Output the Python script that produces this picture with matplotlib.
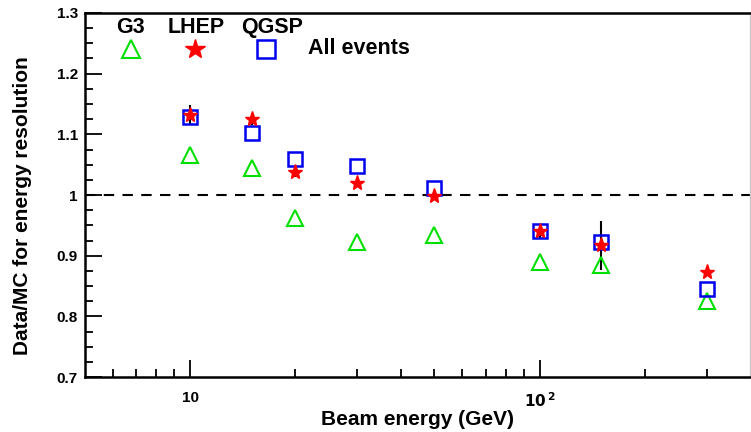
import numpy as np
import matplotlib.pyplot as plt
from matplotlib.ticker import FixedLocator, MultipleLocator, NullFormatter

plt.rcParams['font.family'] = ['Liberation Sans', 'DejaVu Sans']
plt.rcParams['font.weight'] = 'bold'

# beam energies and data/MC ratios of the resolution
energy = [10, 15, 20, 30, 50, 100, 150, 300]
ratio_g3 = [1.066, 1.045, 0.962, 0.922, 0.934, 0.889, 0.884, 0.825]
ratio_lhep = [1.132, 1.126, 1.038, 1.020, 0.998, 0.940, 0.917, 0.874]
ratio_qgsp = [1.128, 1.102, 1.060, 1.048, 1.012, 0.940, 0.922, 0.845]
err_lhep = [0.017, 0.010, 0.008, 0.004, 0.004, 0.010, 0.040, 0.003]

fig = plt.figure(figsize=(7.51, 4.32), dpi=100)
ax = fig.add_axes([0.113, 0.127, 0.886, 0.843])

ax.axhline(1.0, color='black', lw=1.5, ls=(0, (5, 4)), zorder=1)

ax.errorbar(energy, ratio_lhep, yerr=err_lhep, fmt='none', ecolor='black', elinewidth=1.5, zorder=2)
ax.plot(energy, ratio_g3, ls='none', marker='^', ms=11, mfc='none', mec='#00e000', mew=1.5, zorder=3)
ax.plot(energy, ratio_qgsp, ls='none', marker='s', ms=10.5, mfc='none', mec='#0000ee', mew=1.8, zorder=4)
ax.plot(energy, ratio_lhep, ls='none', marker='*', ms=11, color='red', mec='red', zorder=5)

# key above the points
ax.text(6.75, 1.276, 'G3', fontsize=15.5, fontweight='bold', ha='center', va='center')
ax.text(10.4, 1.276, 'LHEP', fontsize=15.5, fontweight='bold', ha='center', va='center')
ax.text(17.1, 1.276, 'QGSP', fontsize=15.5, fontweight='bold', ha='center', va='center')
ax.plot([6.77], [1.241], marker='^', ms=13, mfc='none', mec='#00e000', mew=1.5, clip_on=False)
ax.plot([10.3], [1.241], marker='*', ms=15, color='red', clip_on=False)
ax.plot([16.5], [1.241], marker='s', ms=12.5, mfc='none', mec='#0000ee', mew=1.8, clip_on=False)
ax.text(21.7, 1.241, 'All events', fontsize=15.5, fontweight='bold', ha='left', va='center')

ax.set_xscale('log')
ax.set_xlim(5, 400)
ax.set_ylim(0.7, 1.3)

ax.xaxis.set_major_locator(FixedLocator([10, 100]))
ax.set_xticklabels(['10', r'$\mathbf{10^{\,2}}$'])
ax.xaxis.set_minor_locator(FixedLocator([6, 7, 8, 9, 20, 30, 40, 50, 60, 70, 80, 90, 200, 300]))
ax.xaxis.set_minor_formatter(NullFormatter())
ax.yaxis.set_major_locator(MultipleLocator(0.1))
ax.yaxis.set_minor_locator(MultipleLocator(0.025))
ax.set_yticklabels([f'{v:g}' for v in ax.get_yticks()])

ax.tick_params(which='both', direction='in', top=False, right=False, width=1.3)
ax.tick_params(which='major', length=12, labelsize=11)
ax.tick_params(which='minor', length=6)
ax.tick_params(axis='y', which='major', pad=5)
ax.tick_params(axis='x', which='major', pad=10)

for side in ['left', 'bottom', 'top']:
    ax.spines[side].set_linewidth(1.8)
ax.spines['right'].set_color('#c8c8c8')
ax.spines['right'].set_linewidth(1)

ax.set_xlabel('Beam energy (GeV)', fontsize=15, fontweight='bold', labelpad=0)
ax.set_ylabel('Data/MC for energy resolution', fontsize=15, fontweight='bold')
ax.yaxis.set_label_coords(-0.08, 0.47)

fig.savefig('out.png', dpi=100)
